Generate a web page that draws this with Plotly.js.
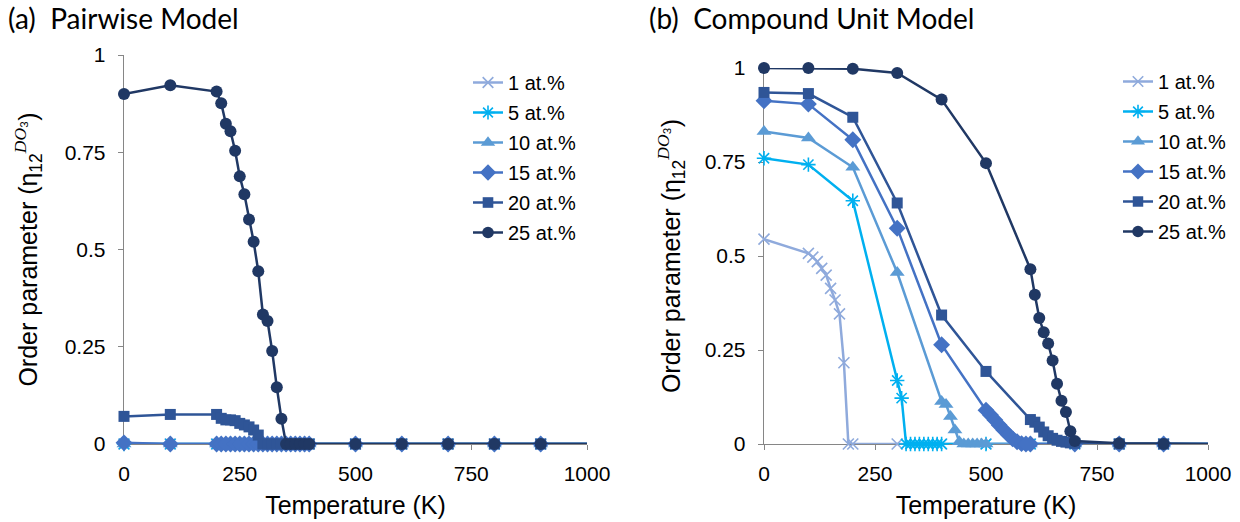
<!DOCTYPE html>
<html>
<head>
<meta charset="utf-8">
<script src="https://cdn.plot.ly/plotly-3.0.1.min.js"></script>
<style>html,body{margin:0;padding:0;background:#fff;}#chart{width:1240px;height:522px;}</style>
</head>
<body>
<div id="chart"></div>
<script>
// ---------- data ----------
const seriesNames = ['1 at.%', '5 at.%', '10 at.%', '15 at.%', '20 at.%', '25 at.%'];

// (a) Pairwise model – shared temperature grid
const tempA = [0,100,200,210,220,230,240,250,260,270,280,290,300,310,320,330,340,350,360,370,380,390,400,500,600,700,800,900,1000];
const a1  = [0,0,0,0,0,0,0,0,0,0,0,0,0,0,0,0,0,0,0,0,0,0,0,0,0,0,0,0,0];
const a5  = [0,0,0,0,0,0,0,0,0,0,0,0,0,0,0,0,0,0,0,0,0,0,0,0,0,0,0,0,0];
const a10 = [0,0,0,0,0,0,0,0,0,0,0,0,0,0,0,0,0,0,0,0,0,0,0,0,0,0,0,0,0];
const a15 = [0.003,0,0,0,0,0,0,0,0,0,0,0,0,0,0,0,0,0,0,0,0,0,0,0,0,0,0,0,0];
const a20 = [0.071,0.076,0.076,0.066,0.062,0.062,0.060,0.053,0.049,0.044,0.036,0.023,0,0,0,0,0,0,0,0,0,0,0,0,0,0,0,0,0];
const a25 = [0.900,0.922,0.906,0.876,0.823,0.804,0.754,0.688,0.642,0.577,0.520,0.444,0.333,0.316,0.239,0.146,0.065,0,0,0,0,0,0,0,0,0,0,0,0];

// (b) Compound unit model
const tempB1  = [0,100,110,120,130,140,150,160,170,180,190,200,300,400,500,600,700,800,900,1000];
const b1      = [0.545,0.507,0.497,0.485,0.467,0.449,0.414,0.383,0.346,0.216,0,0,0,0,0,0,0,0,0,0];
const tempB5  = [0,100,200,300,310,320,330,340,350,360,370,380,390,400,500,600,700,800,900,1000];
const b5      = [0.760,0.743,0.647,0.169,0.122,0,0,0,0,0,0,0,0,0,0,0,0,0,0,0];
const tempB10 = [0,100,200,300,400,410,420,430,440,450,460,470,480,490,500,600,700,800,900,1000];
const b10     = [0.831,0.814,0.736,0.456,0.113,0.105,0.073,0.037,0.006,0,0,0,0,0,0,0,0,0,0,0];
const tempB15 = [0,100,200,300,400,500,510,520,530,540,550,560,570,580,590,600,700,800,900,1000];
const b15     = [0.913,0.904,0.809,0.574,0.264,0.090,0.077,0.064,0.050,0.037,0.025,0.014,0.006,0.001,0,0,0,0,0,0];
const tempB20 = [0,100,200,300,400,500,600,610,620,630,640,650,660,670,680,690,700,800,900,1000];
const b20     = [0.935,0.932,0.869,0.641,0.343,0.193,0.065,0.058,0.045,0.032,0.022,0.015,0.010,0.007,0.005,0.003,0.002,0,0,0];
const tempB25 = [0,100,200,300,400,500,600,610,620,630,640,650,660,670,680,690,700,800,900,1000];
const b25     = [1.000,1.000,0.998,0.987,0.916,0.747,0.465,0.397,0.335,0.297,0.267,0.222,0.160,0.115,0.085,0.034,0.008,0.002,0,0];

const xTicks = [0,250,500,750,1000];
const yTicks = [0,0.25,0.5,0.75,1];
const yTickText = ['0','0.25','0.5','0.75','1'];

// ---------- styles ----------
const colors  = ['#8FAADC','#00B0F0','#5B9BD5','#4472C4','#2F5597','#203864'];
const symbols = ['x-thin-open','asterisk-open','triangle-up','diamond','square','circle'];
const msize   = [11,12,13,13,11,12];
const FONT = 'Arial, "Liberation Sans", sans-serif';

function mk(x, y, i, xa, ya, leg) {
  const open = symbols[i].endsWith('open');
  return {
    x: x, y: y, name: seriesNames[i], type: 'scatter', mode: 'lines+markers',
    xaxis: xa, yaxis: ya, legend: leg, legendgroup: leg + i, cliponaxis: false,
    line: {color: colors[i], width: 2.5},
    marker: {
      symbol: symbols[i], color: colors[i], opacity: 1,
      size: x.map(v => v >= 1000 ? 0 : msize[i]),
      line: {color: colors[i], width: open ? 1.6 : 0}
    }
  };
}

const dataA = [a1,a5,a10,a15,a20,a25];
const tempsB = [tempB1,tempB5,tempB10,tempB15,tempB20,tempB25];
const dataB = [b1,b5,b10,b15,b20,b25];

const traces = [];
dataA.forEach((y, i) => traces.push(mk(tempA, y, i, 'x', 'y', 'legend')));
dataB.forEach((y, i) => traces.push(mk(tempsB[i], y, i, 'x2', 'y2', 'legend2')));

const ytitle = 'Order parameter (η<sub>12</sub><sup><span style="font-family:\'Liberation Serif\',serif;font-style:italic">DO</span>₃</sup>)';

function xax(dom, anchor) {
  return {
    domain: dom, anchor: anchor, range: [0, 1000], tickvals: xTicks, ticktext: xTicks.map(String),
    showgrid: false, zeroline: false, showline: true, linecolor: '#868686', linewidth: 1.3,
    ticks: 'outside', ticklen: 5, tickcolor: '#868686', layer: 'below traces', ticklabelstandoff: 5,
    tickfont: {family: FONT, size: 21, color: '#000'},
    title: {text: 'Temperature (K)', font: {family: FONT, size: 25, color: '#000'}, standoff: 13}
  };
}
function yax(dom, anchor, so) {
  return {
    domain: dom, anchor: anchor, range: [0, 1], tickvals: yTicks, ticktext: yTickText,
    showgrid: false, zeroline: false, showline: true, linecolor: '#868686', linewidth: 1.3,
    ticks: 'outside', ticklen: 5, tickcolor: '#868686', layer: 'below traces', ticklabelstandoff: 8,
    tickfont: {family: FONT, size: 21, color: '#000'},
    title: {text: ytitle, font: {family: FONT, size: 25, color: '#000'}, standoff: so}
  };
}

const legBase = {
  font: {family: FONT, size: 20, color: '#000'}, bgcolor: 'rgba(0,0,0,0)',
  xanchor: 'left', yanchor: 'top', traceorder: 'grouped', tracegroupgap: 1, itemwidth: 30
};

const layout = {
  width: 1240, height: 522, paper_bgcolor: '#fff', plot_bgcolor: '#fff',
  margin: {l: 0, r: 0, t: 0, b: 0},
  showlegend: true,
  xaxis: xax([124/1240, 587/1240], 'y'),
  yaxis: yax([78/522, 467/522], 'x', 20),
  xaxis2: xax([764/1240, 1208/1240], 'y2'),
  yaxis2: yax([78/522, 454/522], 'x2', 17),
  legend: Object.assign({}, legBase, {x: 468/1240, y: 1 - 63/522}),
  legend2: Object.assign({}, legBase, {x: 1118/1240, y: 1 - 62/522}),
  annotations: [
    {text: '(a)\u00a0 Pairwise Model', xref: 'paper', yref: 'paper', x: 6/1240, y: 1 - 18/522,
     xanchor: 'left', yanchor: 'middle', showarrow: false, font: {family: 'Lato, Carlito, sans-serif', size: 28, color: '#000'}},
    {text: '(b)\u00a0 Compound Unit Model', xref: 'paper', yref: 'paper', x: 647/1240, y: 1 - 18/522,
     xanchor: 'left', yanchor: 'middle', showarrow: false, font: {family: 'Lato, Carlito, sans-serif', size: 28, color: '#000'}}
  ]
};

Plotly.newPlot('chart', traces, layout, {displayModeBar: false, staticPlot: true});
</script>
</body>
</html>
